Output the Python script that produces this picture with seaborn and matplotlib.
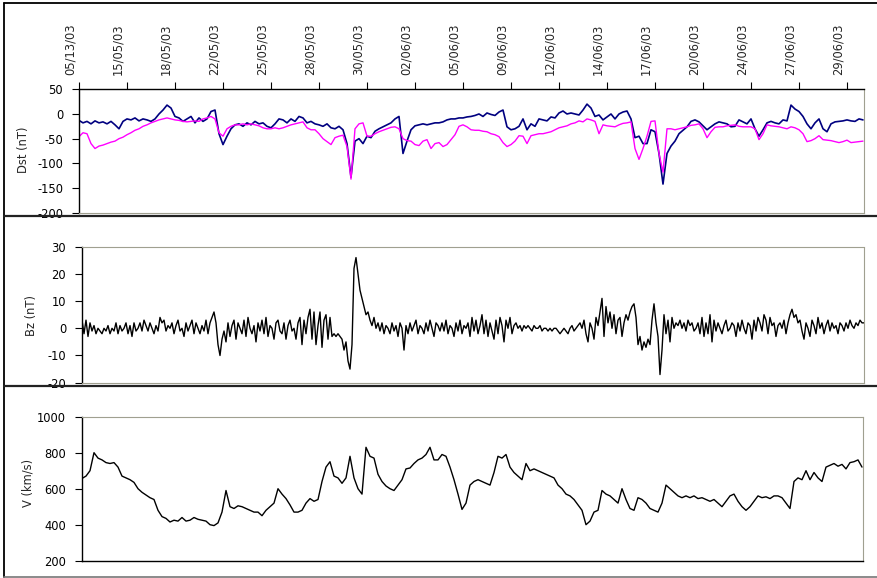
import numpy as np
import pandas as pd
import matplotlib
matplotlib.use("Agg")
import matplotlib.pyplot as plt
import matplotlib.transforms as mtransforms
from matplotlib.lines import Line2D
import seaborn as sns

# ---- data -------------------------------------------------------------
date_labels = ["05/13/03", "15/05/03", "18/05/03", "22/05/03", "25/05/03",
               "28/05/03", "30/05/03", "02/06/03", "05/06/03", "09/06/03",
               "12/06/03", "14/06/03", "17/06/03", "20/06/03", "24/06/03",
               "27/06/03", "29/06/03"]
label_every = 12  # samples between date labels

dst_observed = [
    -13, -18, -15, -20, -14, -18, -16, -20, -15, -22,
    -30, -15, -10, -12, -8, -14, -10, -12, -15, -10,
    0, 8, 18, 12, -5, -8, -15, -10, -5, -18,
    -8, -15, -10, 5, 8, -40, -62, -45, -30, -22,
    -20, -25, -18, -22, -15, -20, -18, -25, -28, -20,
    -10, -12, -18, -10, -15, -5,
    -8, -18, -15, -20, -22, -25, -20, -28, -30, -25,
    -32, -60, -128, -55, -50, -60, -45, -48, -35, -30,
    -26, -22, -18, -10, -5, -80, -55, -32, -24, -22,
    -20, -22, -20, -18, -18, -16, -12, -10, -10, -8,
    -8, -6, -5, -3, 0, -5, 2, -1, -3, 4,
    8, -26, -32, -30, -25, -10, -32, -20, -25, -10,
    -12, -14, -6, -8, 2, 6, 0, 2, 0, -2,
    8, 20, 12, -5, -2, -12, -6, 0, -10, 0,
    4, 6, -10, -48, -45, -60, -60, -32, -36, -80,
    -142, -80, -65, -55, -40, -33, -26, -15, -12, -16,
    -24, -32, -26, -20, -16, -18, -20, -26, -25, -12,
    -16, -20, -10, -30, -45, -32, -18, -15, -18, -20,
    -12, -14, 18, 10, 5, -5, -20, -30, -18, -10,
    -30, -36, -20, -16, -15, -14, -12, -14, -15, -10, -12,
]

dst_model = [
    -46, -38, -40, -60, -70, -65, -63, -60, -57, -55,
    -50, -47, -42, -38, -33, -30, -25, -22, -18, -15,
    -12, -10, -8, -10, -12, -13, -15, -16, -15, -14,
    -15, -10, -8, -5, -10, -38, -45, -30, -25, -22,
    -22, -20, -22, -20, -22, -24, -28, -30, -30, -28,
    -30, -28, -25, -22, -20, -18,
    -16, -28, -32, -32, -40, -50, -56, -62, -48, -45,
    -43, -66, -132, -30, -20, -18, -45, -45, -40, -36,
    -33, -30, -27, -26, -30, -50, -54, -55, -62, -64,
    -55, -52, -70, -60, -58, -66, -62, -52, -42, -25,
    -22, -26, -32, -33, -33, -35, -36, -40, -42, -46,
    -58, -66, -62, -55, -44, -45, -60, -44, -42, -40,
    -40, -38, -36, -32, -28, -26, -24, -20, -18, -14,
    -16, -10, -12, -15, -40, -22, -24, -25, -26, -22,
    -19, -18, -16, -70, -92, -70, -45, -15, -14, -80,
    -118, -30, -30, -32, -30, -28, -26, -23, -22, -20,
    -30, -48, -36, -27, -26, -26, -24, -23, -22, -25,
    -26, -26, -26, -30, -52, -40, -22, -24, -25, -26,
    -28, -30, -26, -28, -32, -40, -56, -54, -50, -44,
    -52, -53, -54, -56, -58, -56, -53, -58, -57, -56, -55,
]

bz_values = [
    3, -2, 3, -3, 2, -1, 1, -2, 0, -1,
    -2, 0, -1, 1, -2, 0, -1, 2, -2, 1,
    -1, 0, 2, -2, 1, -3, 2, -1, 0, 2,
    -1, 3, 1, -1, 2, 0, -2, 1, -1, 4,
    2, 3, -1, 1, 0, 2, -2, 1, 3, -1,
    0, -3, 2, -1, 1, 3, -2, 2, 0, -2,
    1, -1, 3, -2, 2, 4, 6, 2, -6, -10,
    -4, -1, -5, 2, -3, 1, 3, -4, 2, 0,
    -2, 3, -3, 4, 0, -2, 1, -5, 2, -1,
    3, -2, 4, -3, 1, 0, -4, 2, 3, -1,
    -2, 2, -4, 1, 3, -1, 0, -4, 2, 4,
    -6, 3, -2, 4, 7, -4, 6, -6, 1, 6,
    -7, 3, 5, -4, 4, -3, -2, -3, -2, -3,
    -4, -8, -5, -12, -15, -6, 22, 26, 20, 14,
    11, 8, 5, 6, 3, 1, 4, 0, 2, -1,
    2, -2, 1, 0, -2, 2, -1, 1, -3, 2,
    0, -8, 1, -2, 2, -1, 1, 3, -2, 1,
    0, -2, 2, -1, 3, 0, -3, 2, 1, -1,
    2, -1, 3, -2, 1, 0, -3, 2, -1, 3,
    -2, 1, 0, 2, -3, 4, -1, 3, -2, 1,
    5, -2, 3, -3, 2, -1, -4, 3, -2, 4,
    1, -5, 3, 0, 4, -2, 1, 2, 0, 1,
    -1, 1, 0, 1, 0, -1, 1, 0, 0, 1,
    -1, 0, 0, -1, 0, -1, 0, 0, -1, -2,
    -1, 0, -1, -2, 0, 1, -1, 0, 1, 2,
    0, 3, -2, -5, 2, 0, -4, 4, 1, 6,
    11, -3, 8, 2, 6, 0, 5, -2, 3, 4,
    -3, 2, 5, 3, 6, 8, 9, 4, -6, -3,
    -8, -5, -7, -4, -6, 3, 9, 2, -3, -17,
    -8, 5, -2, 3, -5, 4, 0, 2, 1, 3,
    0, 2, -1, 3, 1, 2, -1, 0, 2, -2,
    4, -3, 2, -2, 5, -5, 3, -1, 2, 0,
    -2, 1, 3, -1, 0, 2, 1, -3, 2, -1,
    3, 0, -2, 2, 1, -4, 3, -1, 4, 2,
    -1, 5, 3, -2, 4, 1, 2, -3, 1, 2,
    0, 3, -2, 2, 5, 7, 4, 5, 2, 3,
    -1, -4, 2, 0, -3, 3, 1, -2, 4, 0,
    2, -2, 1, 3, -1, 2, 0, 1, -2, 2,
    1, -1, 2, 0, 3, 1, 0, 2, 1, 3,
    2, 2,
]

speed_values = [
    657, 670, 700, 800, 770, 760, 745, 740, 745, 720,
    670, 660, 650, 635, 600, 580, 565, 550, 540, 480,
    445, 435, 415, 425, 420, 440, 420, 425, 440, 430,
    425, 420, 400, 395, 410, 470, 590, 500, 490, 505,
    500, 490, 480, 470, 470, 450, 480, 500, 520, 600,
    570, 545, 510, 470, 470, 480, 520, 545, 530, 540,
    640, 720, 750, 670, 660, 630, 660, 780, 660, 600,
    570, 830, 780, 770, 680, 640, 615, 600, 590, 620,
    650, 710, 715, 740, 760, 770, 790, 830, 760, 760,
    790, 780, 720, 650, 570, 485, 520, 620, 640, 650,
    640, 630, 620, 690, 780, 770, 790, 720, 690, 670,
    650, 740, 700, 710, 700, 690, 680, 670, 660, 620,
    600, 570, 560, 540, 510, 480, 400, 420, 470, 480,
    590, 570, 560, 540, 520, 600, 540, 490, 480, 550,
    540, 520, 490, 480, 470, 520, 620, 600, 580, 560,
    550, 560, 550, 560, 545, 550, 540, 530, 540, 520,
    500, 530, 560, 570, 530, 500, 480, 500, 530, 560,
    550, 555, 545, 560, 560, 550, 520, 490, 640, 660,
    650, 700, 650, 690, 660, 640, 720, 730, 740, 725,
    735, 710, 745, 750, 760, 720,
]

dst_ticks = [-200, -150, -100, -50, 0, 50]
bz_ticks = [-20, -10, 0, 10, 20, 30]
speed_ticks = [200, 400, 600, 800, 1000]

# ---- style ------------------------------------------------------------
sns.set_style("white")
plt.rcParams["font.family"] = ["DejaVu Sans"]
plt.rcParams["axes.unicode_minus"] = False
FS = 8.3

W, H = 878, 578
fig = plt.figure(figsize=(W / 100, H / 100), dpi=100)


def px_axes(left, top, right, bottom):
    return fig.add_axes([left / W, 1 - bottom / H, (right - left) / W, (bottom - top) / H])


ax1 = px_axes(79, 89.3, 864, 212.7)
ax2 = px_axes(82, 246.7, 864, 382.7)
ax3 = px_axes(82, 416.7, 863, 560.7)

dst_df = pd.DataFrame({"sample": np.arange(len(dst_observed)),
                       "observed": dst_observed, "model": dst_model})
bz_df = pd.DataFrame({"sample": np.arange(len(bz_values)), "bz": bz_values})
v_df = pd.DataFrame({"sample": np.arange(len(speed_values)), "v": speed_values})

sns.lineplot(data=dst_df, x="sample", y="observed", ax=ax1, color="#000080", lw=1.2)
sns.lineplot(data=dst_df, x="sample", y="model", ax=ax1, color="#ff00ff", lw=1.0)
sns.lineplot(data=bz_df, x="sample", y="bz", ax=ax2, color="black", lw=1.0)
sns.lineplot(data=v_df, x="sample", y="v", ax=ax3, color="black", lw=1.0)

ax1.set_xlim(0, 785 / 4)
ax2.set_xlim(0, 782 / 2)
ax3.set_xlim(0, 781 / 4)
ax1.set_ylim(-200, 50)
ax2.set_ylim(-20, 30)
ax3.set_ylim(200, 1000)
ax1.set_yticks(dst_ticks)
ax2.set_yticks(bz_ticks)
ax3.set_yticks(speed_ticks)

border_col = "#a0a090"
for ax in (ax1, ax2, ax3):
    ax.set_xlabel("")
    ax.set_ylabel("")
    for s in ax.spines.values():
        s.set_visible(True)
        s.set_color(border_col)
        s.set_linestyle((0, (2, 1)))
        s.set_linewidth(0.8)
    ax.spines["left"].set(color="black", linestyle="-", linewidth=1.0)
    ax.tick_params(axis="y", left=True, direction="out", length=5, width=0.8,
                   pad=6.5, labelsize=FS, colors="black")

ax1.spines["top"].set(color="black", linestyle="-", linewidth=1.0)
ax3.spines["bottom"].set(color="black", linestyle="-", linewidth=1.0)

# date axis along the top of the Dst panel
tick_pos = [i * label_every for i in range(len(date_labels))]
ax1.set_xticks(tick_pos)
ax1.tick_params(axis="x", top=True, bottom=False, labeltop=False, labelbottom=False,
                direction="out", length=5, width=0.8, colors="black")
ax2.set_xticks([])
ax3.set_xticks([])

lab_tr = mtransforms.offset_copy(
    mtransforms.blended_transform_factory(ax1.transData, fig.transFigure),
    fig=fig, x=-9, y=0, units="dots")
for pos, lab in zip(tick_pos, date_labels):
    fig.text(pos, 1 - 75 / H, lab, transform=lab_tr, rotation=90,
             ha="center", va="bottom", fontsize=FS)

# axis titles
fig.text(24 / W, 1 - 150 / H, "Dst (nT)", rotation=90, ha="center", va="center", fontsize=FS)
fig.text(32 / W, 1 - 315 / H, "Bz (nT)", rotation=90, ha="center", va="center", fontsize=FS)
fig.text(28 / W, 1 - 483 / H, "V (km/s)", rotation=90, ha="center", va="center", fontsize=FS)

# outer frame and panel separators
def fig_line(x0, y0, x1, y1, **kw):
    fig.add_artist(Line2D([x0 / W, x1 / W], [1 - y0 / H, 1 - y1 / H],
                          transform=fig.transFigure, **kw))

fig_line(4.5, 2.5, 878, 2.5, color="black", lw=1.3)
fig_line(4.5, 2.5, 4.5, 577, color="black", lw=1.3)
fig_line(4.5, 577, 878, 577, color="#777777", lw=1.2)
fig_line(4.5, 216, 878, 216, color="#222222", lw=1.6)
fig_line(4.5, 386, 878, 386, color="#222222", lw=1.6)

fig.savefig("out.png", dpi=100)
